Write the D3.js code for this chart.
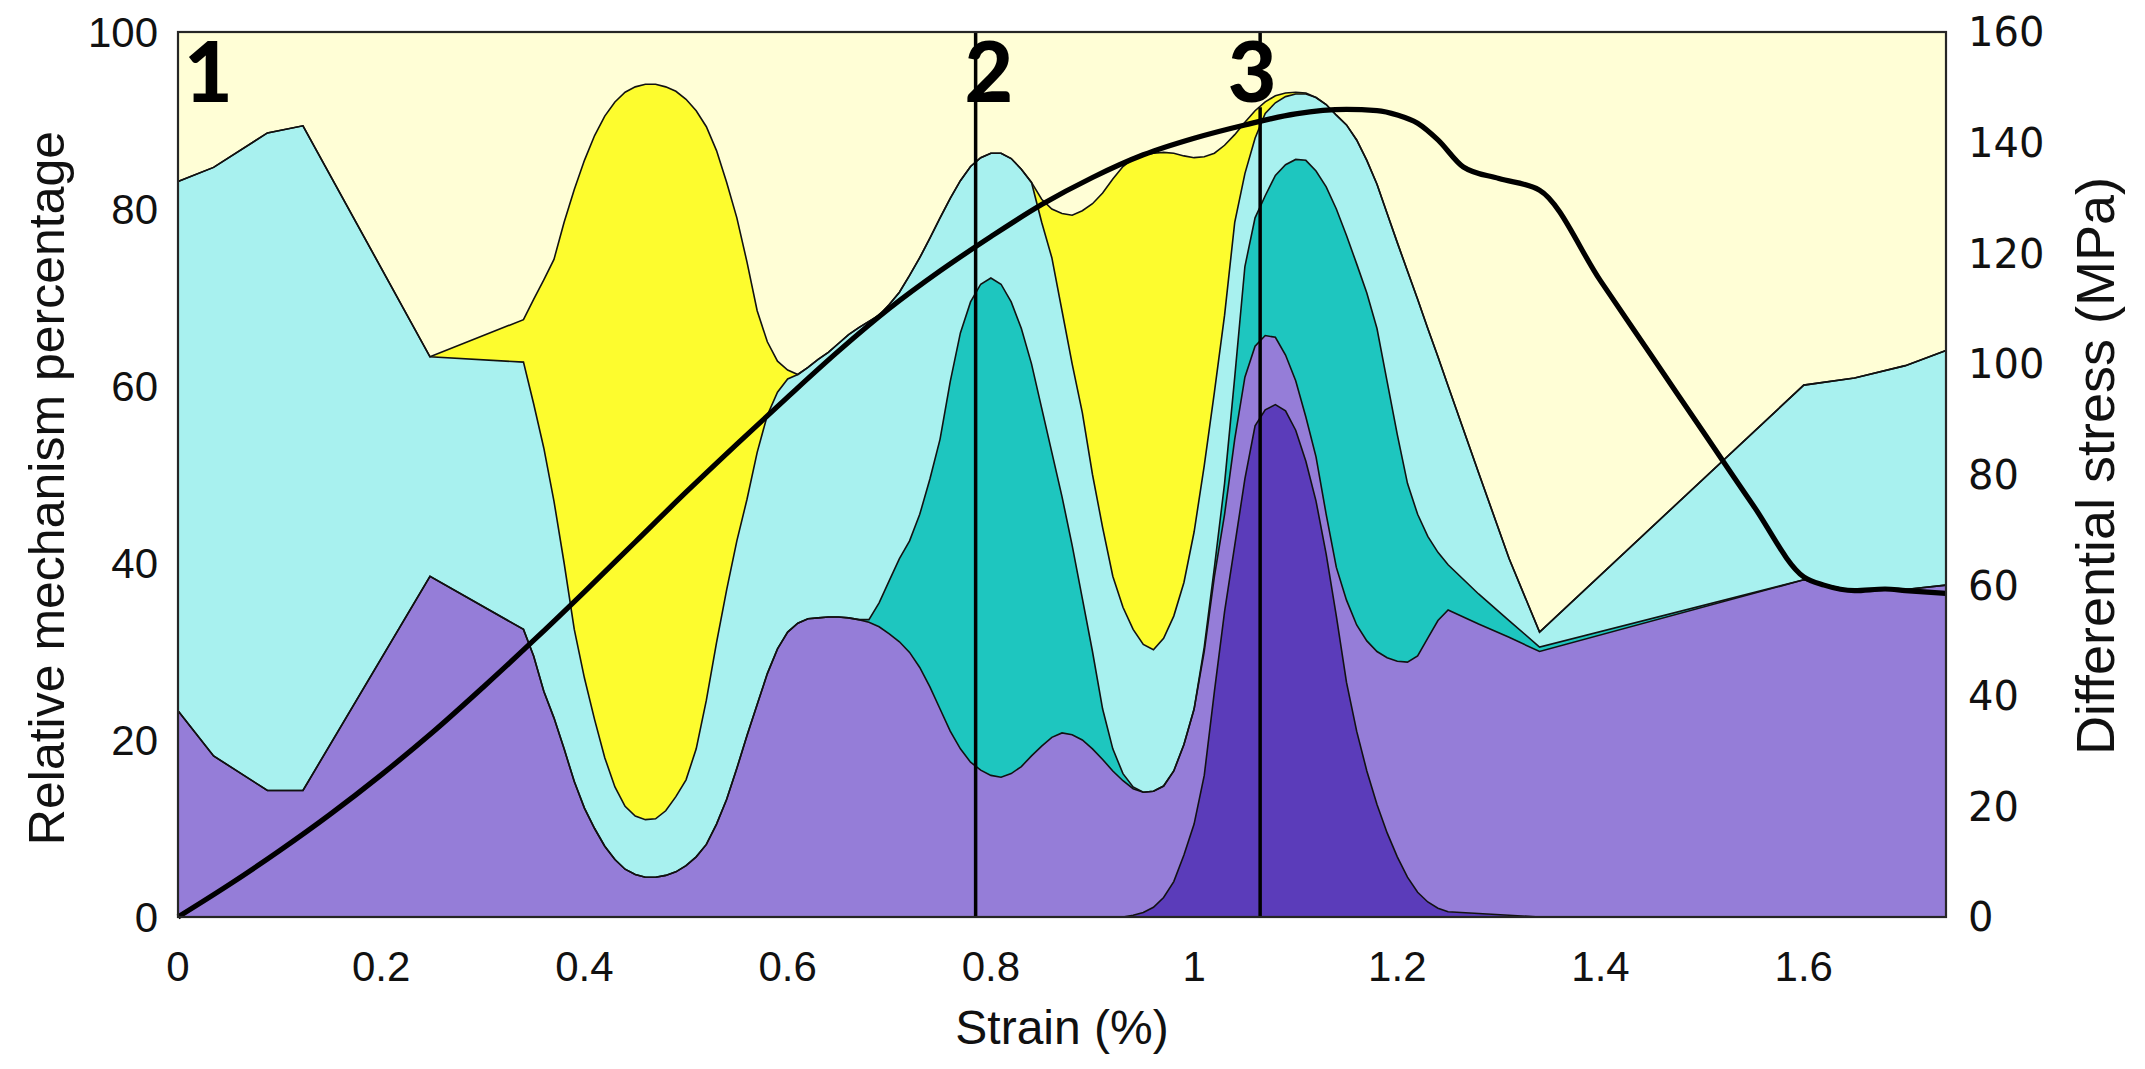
<!DOCTYPE html>
<html><head><meta charset="utf-8">
<script src="https://cdn.jsdelivr.net/npm/d3@7"></script>
<style>body{margin:0;background:#fff;} svg{display:block}</style>
</head><body>
<svg id="chart" width="2145" height="1069"></svg>
<script>
// ---- data ----
const strain = [0,0.035,0.088,0.123,0.248,0.34,0.35,0.36,0.37,0.38,0.39,0.40,0.41,0.42,0.43,0.44,0.45,0.46,0.47,0.48,0.49,0.50,0.51,0.52,0.53,0.54,0.55,0.56,0.57,0.58,0.59,0.60,0.61,0.62,0.63,0.64,0.65,0.66,0.67,0.68,0.69,0.70,0.71,0.72,0.73,0.74,0.75,0.76,0.77,0.78,0.79,0.80,0.81,0.82,0.83,0.84,0.85,0.86,0.87,0.88,0.89,0.90,0.91,0.92,0.93,0.94,0.95,0.96,0.97,0.98,0.99,1.00,1.01,1.02,1.03,1.04,1.05,1.06,1.07,1.08,1.09,1.10,1.11,1.12,1.13,1.14,1.15,1.16,1.17,1.18,1.19,1.20,1.21,1.22,1.23,1.24,1.25,1.28,1.31,1.34,1.60,1.65,1.70,1.74];
const darkPurple = [0,0,0,0,0,0,0,0,0,0,0,0,0,0,0,0,0,0,0,0,0,0,0,0,0,0,0,0,0,0,0,0,0,0,0,0,0,0,0,0,0,0,0,0,0,0,0,0,0,0,0,0,0,0,0,0,0,0,0,0,0,0,0,0,0,0.2,0.5,1.1,2.2,4,7,10.5,16,25.5,34.5,42,49.5,55.5,57.3,57.9,57.2,55,51.5,47,41,34,26.5,21,16.5,12.7,9.5,6.8,4.5,2.8,1.7,1,0.6,0.4,0.2,0,0,0,0,0];
const mediumPurple = [23.3,18.2,14.3,14.3,38.5,32.5,29.5,25.5,22.5,19,15.3,12.3,10,8,6.5,5.4,4.8,4.5,4.5,4.7,5.1,5.8,6.8,8.2,10.5,13.3,16.8,20.5,24,27.5,30.3,32.2,33.2,33.7,33.8,33.9,33.9,33.8,33.6,33.3,32.8,32,31.1,29.9,28.2,26,23.5,21,19,17.5,16.6,16,15.8,16.2,17,18.2,19.3,20.3,20.8,20.6,20,19,17.8,16.5,15.4,14.3,13.6,13.1,12.6,12.5,12.5,13,14,13,11,12,11.5,9,8.4,7.6,6.3,5.6,5,5,4.5,5.5,9.3,12,14.7,17.3,19.8,22.1,24.3,26.7,29.8,32.5,34.1,32.7,31.4,30,38.1,36.8,37,37.5];
const teal = [0,0,0,0,0,0,0,0,0,0,0,0,0,0,0,0,0,0,0,0,0,0,0,0,0,0,0,0,0,0,0,0,0,0,0,0,0,0,0,0.3,2.7,6,9.4,12.6,17.3,23.5,30.5,39.5,47,52,54.9,56.2,55.7,53.3,49.5,44.3,38.2,32.2,26.7,21.4,16,11,5.7,2.5,0.8,0.2,0,0,0,0,0,0,0.5,1,3.5,7,12.5,14.5,15.8,18.3,21.5,25,29,32.3,37,40.5,41.2,40.8,39.3,36.5,31.2,25.6,20.2,16,11.5,7.7,5.1,3.4,1.9,0.5,0,0,0,0];
const lightCyan = [59.8,66.5,74.3,75.1,24.8,30.2,28.5,27.5,24.5,21,17.2,14.7,12.3,10,8.2,7.1,6.6,6.5,6.6,7.3,8.5,9.7,12.2,16.3,20.5,23.7,25.7,26.7,28.5,29.2,29,28.6,28.1,28.4,29.2,29.9,30.9,32,33,33.7,32.5,31.2,30.1,30,29,27.2,25,20.7,17.2,15.3,14.3,14.1,14.8,16.2,18,20.5,21,22,21,20.5,21,20,20.5,19.5,18.8,17.8,16.7,16,16.7,17.5,18.3,20,20.5,19.8,19,17.5,10.5,9,9.3,8.2,7.7,7.4,7.5,8.3,9.3,10.6,12.5,14,15,16.3,19,21.7,24,24.3,23.5,22.1,20.2,13.7,7,1.7,22,24.1,25.3,26.5];
const yellow = [0,0,0,0,0,4.8,11.8,19,27.3,38.5,49.7,58.5,66,72.5,77.4,80.7,82.4,83.1,83,81.8,79.7,76.9,72.1,64.8,55.6,46,36.5,26.8,16,8.3,3.5,1,0,0,0,0,0,0,0,0,0,0,0,0,0,0,0,0,0,0,0,0,0,0,0,0,2.6,5.5,11,16.8,22.8,30.6,37.8,44.9,49.8,53.2,55.3,56.1,54.9,52.3,48.2,42.3,34.9,27,19.2,9.9,5.8,3.1,1.3,0.8,0.4,0.2,0.1,0,0,0,0,0,0,0,0,0,0,0,0,0,0,0,0,0,0,0,0,0];
const lightYellow = [16.9,15.3,11.4,10.6,36.7,32.5,30.2,28,25.7,21.5,17.8,14.5,11.7,9.5,7.9,6.8,6.2,5.9,5.9,6.2,6.7,7.6,8.9,10.7,13.4,17,21,26,31.5,35,37.2,38.2,38.7,37.9,37,36.2,35.2,34.2,33.4,32.7,32,30.8,29.4,27.5,25.5,23.3,21,18.8,16.8,15.2,14.2,13.7,13.7,14.3,15.5,17,18.9,20,20.5,20.7,20.2,19.4,18.2,16.6,15.2,14.3,13.9,13.7,13.6,13.7,14,14.2,14.1,13.7,12.8,11.6,10.2,8.9,7.9,7.2,6.9,6.8,6.9,7.4,8.2,9.4,10.5,12.2,14.5,17.2,20.5,23.8,27,30.2,33.5,36.7,40,49.8,59.5,67.8,39.9,39.1,37.7,36];
const stressStrain = [0,0.05,0.1,0.15,0.2,0.25,0.3,0.35,0.4,0.45,0.5,0.55,0.6,0.65,0.7,0.75,0.8,0.85,0.9,0.95,1.0,1.05,1.1,1.15,1.18,1.2,1.22,1.24,1.265,1.3,1.34,1.4,1.45,1.5,1.55,1.6,1.62,1.65,1.68,1.7,1.74];
const stress = [0,5.8,12,18.6,25.7,33.3,41.5,50,58.8,67.8,76.8,85.5,94,102.3,110,116.8,123,128.8,133.7,137.8,140.8,143.2,145.2,146,145.8,145,143.5,140.5,135.6,133.5,131.4,115,101.5,88,74.5,61.5,60,59,59.3,59,58.5];
const layerNames = ["darkPurple","mediumPurple","teal","lightCyan","yellow","lightYellow"];
const layerColors = ["#5b3cba","#957dd8","#1ec6bf","#a8f1ef","#fdfc2e","#fffed6"];
const xTicks = [0,0.2,0.4,0.6,0.8,1,1.2,1.4,1.6];
const xTickLabels = ["0","0.2","0.4","0.6","0.8","1","1.2","1.4","1.6"];
const leftTicks = [0,20,40,60,80,100];
const rightTicks = [0,20,40,60,80,100,120,140,160];
const markerStrain = [0.785,1.065];
const stageLabels = ["1","2","3"];
const stageStrain = [0.03,0.798,1.057];

// ---- layout ----
const svg = d3.select("#chart");
const L = 178, R = 1946, T = 32, B = 917;
const x = d3.scaleLinear().domain([0,1.74]).range([L,R]);
const y = d3.scaleLinear().domain([0,100]).range([B,T]);
const y2 = d3.scaleLinear().domain([0,160]).range([B,T]);

const seriesArrays = [darkPurple,mediumPurple,teal,lightCyan,yellow,lightYellow];
const rows = strain.map((s,i)=>{const r={strain:s}; layerNames.forEach((k,j)=>r[k]=seriesArrays[j][i]); return r;});
const stacked = d3.stack().keys(layerNames)(rows);

const area = d3.area().x(d=>x(d.data.strain)).y0(d=>y(d[0])).y1(d=>y(Math.min(100,d[1])));
const g = svg.append("g");
g.selectAll("path.layer").data(stacked).join("path")
  .attr("class","layer")
  .attr("d",area)
  .attr("fill",(d,i)=>layerColors[i])
  .attr("stroke","none");
const topLine = d3.line().x(d=>x(d.data.strain)).y(d=>y(d[1]));
g.selectAll("path.edge").data(stacked.slice(0,5)).join("path")
  .attr("class","edge")
  .attr("d",topLine)
  .attr("fill","none").attr("stroke","#111").attr("stroke-width",1.6);

// vertical markers
svg.append("line").attr("x1",x(markerStrain[0])).attr("x2",x(markerStrain[0]))
  .attr("y1",y(100)).attr("y2",y(0)).attr("stroke","#000").attr("stroke-width",3.5);
svg.append("line").attr("x1",x(markerStrain[1])).attr("x2",x(markerStrain[1]))
  .attr("y1",y(91.5)).attr("y2",y(0)).attr("stroke","#000").attr("stroke-width",3.5);
svg.append("line").attr("x1",x(markerStrain[1])).attr("x2",x(markerStrain[1]))
  .attr("y1",y(100)).attr("y2",y(98.8)).attr("stroke","#000").attr("stroke-width",3.5);

// stress line
const sLine = d3.line().x((d,i)=>x(stressStrain[i])).y(d=>y2(d)).curve(d3.curveMonotoneX);
svg.append("path").attr("d",sLine(stress)).attr("fill","none").attr("stroke","#000").attr("stroke-width",5.2).attr("stroke-linejoin","round");

// box
svg.append("rect").attr("x",L).attr("y",T).attr("width",R-L).attr("height",B-T)
  .attr("fill","none").attr("stroke","#262626").attr("stroke-width",2.2);

// stage labels
svg.selectAll("text.stage").data(stageLabels).join("text").attr("class","stage")
  .attr("x",(d,i)=>x(stageStrain[i])).attr("y",y(92.1))
  .attr("text-anchor","middle").attr("font-family","Lato, 'Open Sans', sans-serif")
  .attr("font-weight","900").attr("font-size",84).attr("fill","#000").text(d=>d);

// ticks
const tickFont = "'Liberation Sans', Arial, sans-serif";
svg.selectAll("text.lt").data(leftTicks).join("text").attr("class","lt")
  .attr("x",L-20).attr("y",d=>y(d)).attr("dy","0.36em").attr("text-anchor","end")
  .attr("font-family",tickFont).attr("font-size",42).attr("fill","#111").text(d=>d);
svg.selectAll("text.xt").data(xTicks).join("text").attr("class","xt")
  .attr("x",d=>x(d)).attr("y",B+64).attr("text-anchor","middle")
  .attr("font-family",tickFont).attr("font-size",42).attr("fill","#111").text((d,i)=>xTickLabels[i]);
svg.selectAll("text.rt").data(rightTicks).join("text").attr("class","rt")
  .attr("x",R+22).attr("y",d=>y2(d)).attr("dy","0.36em").attr("text-anchor","start")
  .attr("font-family","'DejaVu Sans', Verdana, sans-serif").attr("font-size",40).attr("fill","#111").text(d=>d);

// axis titles
svg.append("text").attr("x",(L+R)/2).attr("y",1044).attr("text-anchor","middle")
  .attr("font-family",tickFont).attr("font-size",48).attr("fill","#111").text("Strain (%)");
svg.append("text").attr("transform",`translate(64,488) rotate(-90)`).attr("text-anchor","middle")
  .attr("font-family",tickFont).attr("font-size",50).attr("fill","#111").text("Relative mechanism percentage");
svg.append("text").attr("transform",`translate(2114,466) rotate(-90)`).attr("text-anchor","middle")
  .attr("font-family","'Liberation Sans Narrow', 'Liberation Sans', Arial, sans-serif").attr("font-size",54).attr("fill","#111").text("Differential stress (MPa)");
</script>
</body></html>
